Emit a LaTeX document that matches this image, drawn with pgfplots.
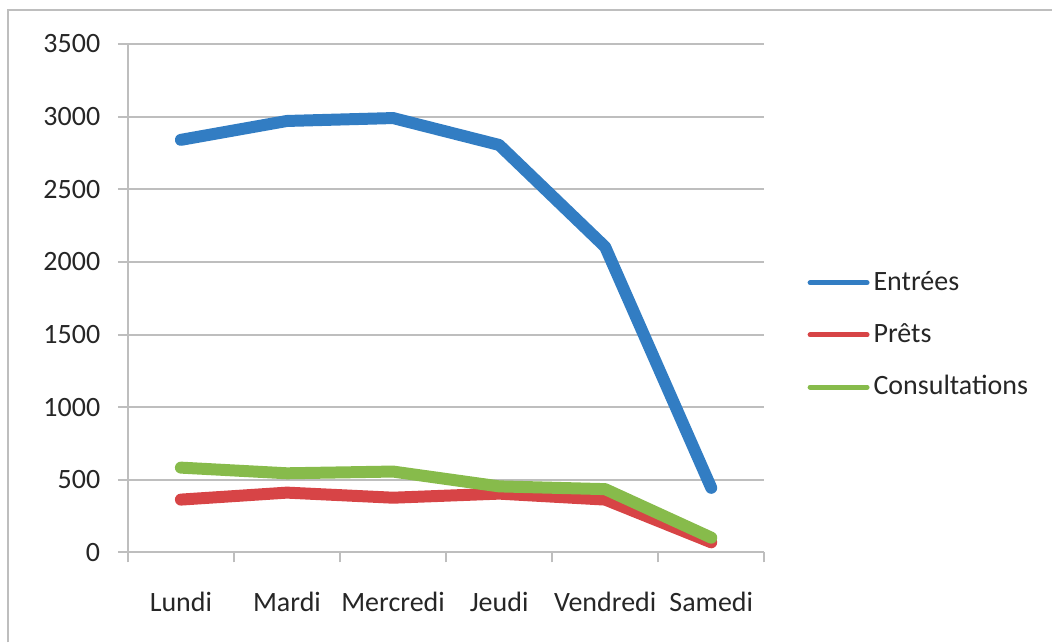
\documentclass[border=0pt]{standalone}
\usepackage{fontspec}
\setmainfont{Carlito}
\usepackage{pgfplots}
\pgfplotsset{compat=1.18}
\definecolor{cBlue}{RGB}{50,125,195}
\definecolor{cRed}{RGB}{215,68,70}
\definecolor{cGreen}{RGB}{135,187,75}
\definecolor{cGrid}{RGB}{190,190,190}
\begin{document}
\fontsize{14pt}{16pt}\selectfont
\begin{tikzpicture}
\path (0pt,0pt) rectangle (526.5pt,321.5pt);
\draw[cGrid,line width=1pt] (4pt,0pt) -- (4pt,316.5pt) -- (526.5pt,316.5pt);
\begin{axis}[
  at={(64pt,45pt)}, anchor=south west,
  scale only axis, width=318.5pt, height=254.5pt,
  xmin=-0.5, xmax=5.5, ymin=0, ymax=3500,
  axis x line*=bottom, axis y line*=left,
  axis line style={cGrid,line width=1pt},
  xtick={0,...,5},
  xticklabels={Lundi,Mardi,Mercredi,Jeudi,Vendredi,Samedi},
  minor xtick={-0.5,0.5,...,5.5},
  major x tick style={draw=none},
  minor x tick style={cGrid,line width=1pt},
  ytick={0,500,...,3500},
  y tick style={cGrid,line width=1pt},
  tick align=outside,
  major tick length=5pt, minor tick length=5pt,
  ymajorgrids,
  grid style={cGrid,line width=1pt},
  /pgf/number format/assume math mode=true,
  /pgf/number format/1000 sep={},
  tick label style={font=\fontsize{14pt}{16pt}\selectfont, text=black!85},
  xticklabel style={yshift=-10pt},
  yticklabel style={xshift=-4pt},
  legend style={at={(1.0675,0.562)}, anchor=north west, draw=none, fill=none,
    font=\fontsize{14pt}{16pt}\selectfont, row sep=10.5pt, inner sep=0pt, text=black!85},
  legend cell align=left,
  legend image code/.code={\draw[line width=2.5pt] (0pt,0pt) -- (28.5pt,0pt);},
  every axis plot/.append style={line width=6pt, line join=round, line cap=round},
  clip=false,
]
\addplot[cBlue] coordinates {(0,2840) (1,2970) (2,2990) (3,2805) (4,2103) (5,445)};
\addlegendentry{Entrées}
\addplot[cRed] coordinates {(0,364) (1,412) (2,377) (3,405) (4,364) (5,70)};
\addlegendentry{Prêts}
\addplot[cGreen] coordinates {(0,584) (1,545) (2,557) (3,455) (4,436) (5,102)};
\addlegendentry{Consultations}
\end{axis}
\end{tikzpicture}
\end{document}
